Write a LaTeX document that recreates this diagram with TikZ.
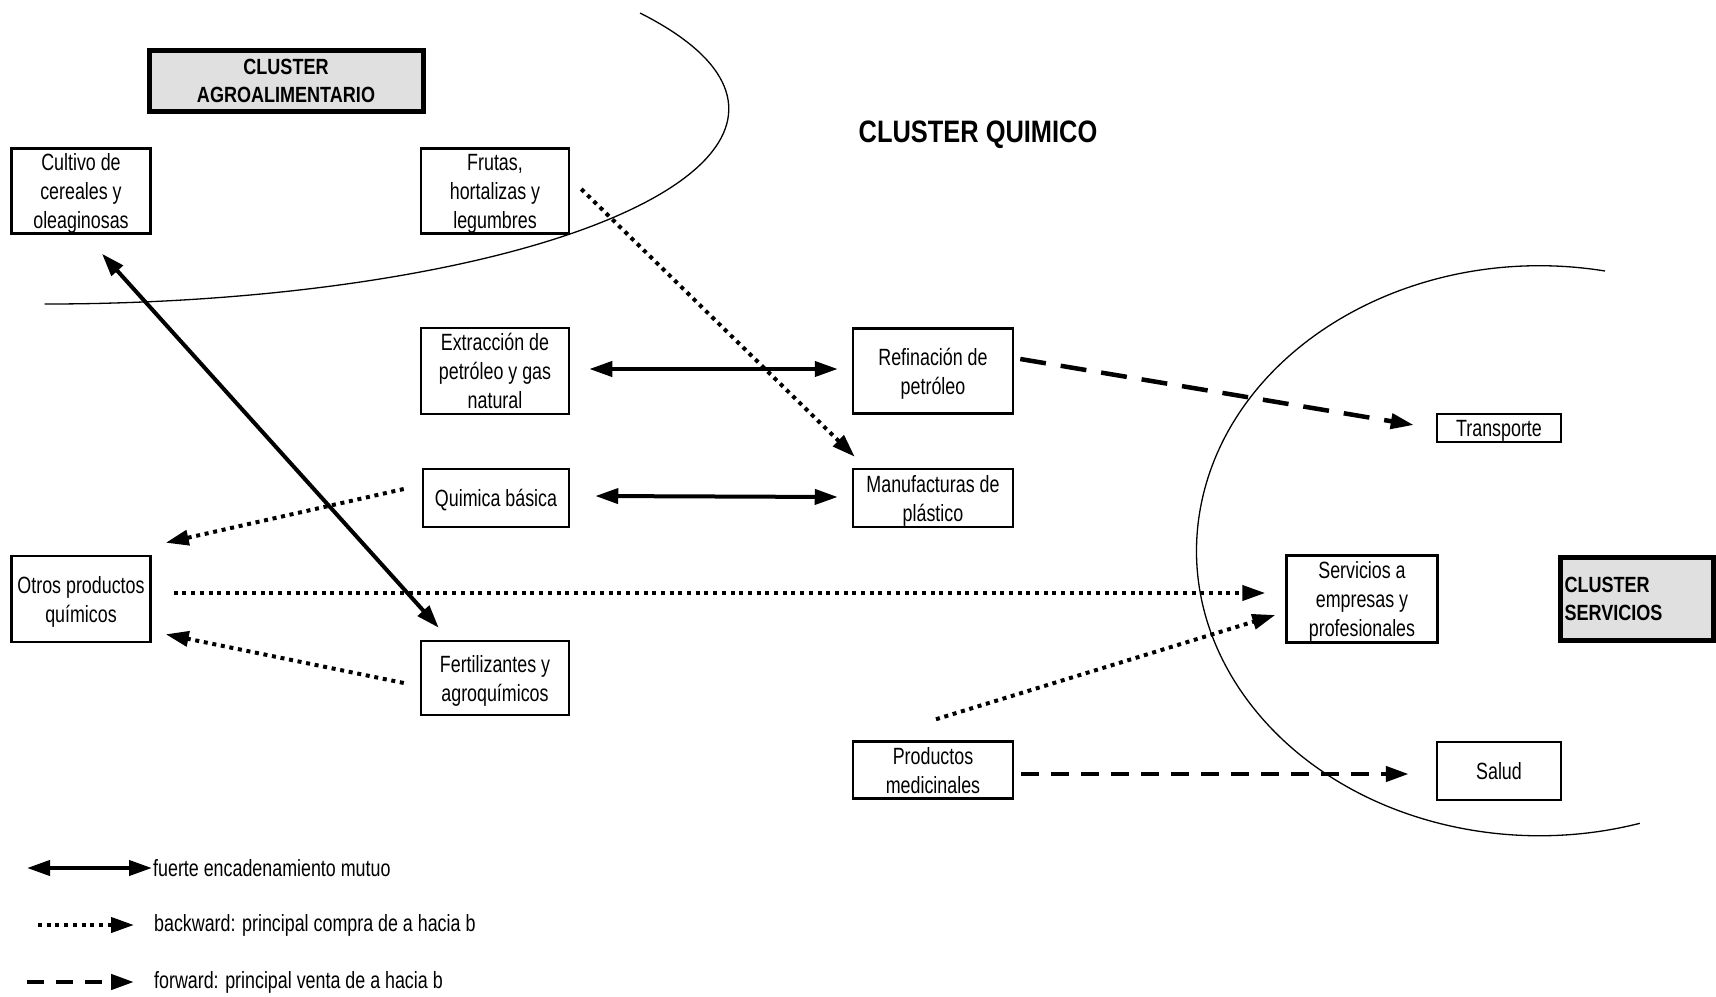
\documentclass[tikz,border=0pt]{standalone}
\usepackage{fontspec}
\setmainfont{Liberation Sans}[FakeStretch=0.76]
\newfontfamily\negrita{Liberation Sans}[FakeStretch=0.82]
\usetikzlibrary{arrows.meta}
\newcommand{\caja}[1]{\raisebox{-9pt}[0pt][0pt]{\begin{tabular}{@{}c@{}}#1\end{tabular}}}

\begin{document}
\begin{tikzpicture}[x = 1pt, y = 1pt, >={Triangle[length=23pt, width=15pt]},
		sector/.style = {draw, line width = 2.5pt, inner sep = 0pt, font = \fontsize{23.5}{29}\selectfont},
		cluster/.style = {draw, line width = 5pt, fill = black!12, inner sep = 0pt, font = \negrita\bfseries\fontsize{22}{28}\selectfont},
		mutuo/.style = {<->, line width = 4pt},
		compra/.style = {->, line width = 4pt, dash pattern = on 4pt off 4.7pt},
		venta/.style = {->, line width = 4.5pt, dash pattern = on 26pt off 15pt},
		borde/.style = {line width = 1.3pt},
		leyenda/.style = {anchor = west, inner sep = 0pt, font = \fontsize{23.5}{29}\selectfont}]
			\useasboundingbox (0, 0) rectangle (1716, -996);
			\draw[borde] (640, -13) arc[start angle = 29.5, end angle = -90, x radius = 684, y radius = 195];
			\draw[borde] (1605, -271) arc[start angle = 79, end angle = 287, x radius = 343, y radius = 285];
			\node[cluster, minimum width = 274pt, minimum height = 61pt, align = center] (agro) at (286, -80.5) {CLUSTER\\AGROALIMENTARIO};
			\node[cluster, minimum width = 153pt, minimum height = 83pt, text width = 145pt, inner xsep = 4pt, align = left] (servclus) at (1637, -599) {CLUSTER\\SERVICIOS};
			\node[font = \negrita\bfseries\fontsize{31}{37}\selectfont, anchor = base] (quimico) at (978, -142) {CLUSTER QUIMICO};
			\node[sector, minimum width = 139pt, minimum height = 85pt] (cultivo) at (81, -191) {\caja{Cultivo de\\cereales y\\oleaginosas}};
			\node[sector, minimum width = 148pt, minimum height = 85pt] (frutas) at (495, -191) {\caja{Frutas,\\hortalizas y\\legumbres}};
			\node[sector, minimum width = 148pt, minimum height = 86pt] (extraccion) at (495, -371) {\caja{Extracción de\\petróleo y gas\\natural}};
			\node[sector, minimum width = 160pt, minimum height = 85pt] (refinacion) at (933, -371) {\caja{Refinación de\\petróleo}};
			\node[sector, minimum width = 146pt, minimum height = 58pt] (quimica) at (496, -498) {\caja{Quimica básica}};
			\node[sector, minimum width = 160pt, minimum height = 58pt] (manufacturas) at (933, -498) {\caja{Manufacturas de\\plástico}};
			\node[sector, minimum width = 139pt, minimum height = 86pt] (otros) at (81, -599) {\caja{Otros productos\\químicos}};
			\node[sector, minimum width = 148pt, minimum height = 74pt] (fertilizantes) at (495, -678) {\caja{Fertilizantes y\\agroquímicos}};
			\node[sector, minimum width = 160pt, minimum height = 57pt] (medicinales) at (933, -770) {\caja{Productos\\medicinales}};
			\node[sector, minimum width = 124pt, minimum height = 28pt] (transporte) at (1499, -428) {\caja{Transporte}};
			\node[sector, minimum width = 151pt, minimum height = 87pt] (servicios) at (1362, -599) {\caja{Servicios a\\empresas y\\profesionales}};
			\node[sector, minimum width = 124pt, minimum height = 58pt] (salud) at (1499, -771) {\caja{Salud}};
			\draw[mutuo] ([shift = {(21, -19)}]cultivo.south) -- ([shift = {(19, 12)}]fertilizantes.north west);
			\draw[mutuo] ([shift = {(19, 2)}]extraccion.east) -- ([shift = {(-14, 2)}]refinacion.west);
			\draw[mutuo] ([shift = {(25, 2)}]quimica.east) -- ([shift = {(-14, 1)}]manufacturas.west);
			\draw[compra] ([shift = {(11, 2)}]frutas.east) -- ([shift = {(3, 11)}]manufacturas.north west);
			\draw[compra] ([shift = {(-18, 9)}]quimica.west) -- ([shift = {(14, 12)}]otros.north east);
			\draw[compra] ([shift = {(-16, -5)}]fertilizantes.west) -- ([shift = {(14, 9)}]otros.south east);
			\draw[compra] ([shift = {(22, 6)}]otros.east) -- ([shift = {(-20, 6)}]servicios.west);
			\draw[compra] ([shift = {(3, 21)}]medicinales.north) -- ([shift = {(-10, -16)}]servicios.west);
			\draw[venta] ([shift = {(6, 12)}]refinacion.east) -- ([shift = {(-22, 3)}]transporte.west);
			\draw[venta, dash pattern = on 18pt off 12pt] ([shift = {(7, -4)}]medicinales.east) -- ([shift = {(-27, -3)}]salud.west);
			\coordinate (fuerteA) at (27, -868);
			\coordinate (fuerteB) at (152, -868);
			\coordinate (compraA) at (38, -925);
			\coordinate (compraB) at (134, -925);
			\coordinate (ventaA) at (27, -982);
			\coordinate (ventaB) at (134, -982);
			\draw[mutuo] (fuerteA) -- (fuerteB);
			\draw[compra] (compraA) -- (compraB);
			\draw[venta, dash pattern = on 17pt off 12pt] (ventaA) -- (ventaB);
			\node[leyenda] (fuerte) at (153, -868) {fuerte encadenamiento mutuo};
			\node[leyenda] (backward) at (154, -925) {backward: principal compra de a hacia b};
			\node[leyenda] (forward) at (154, -982) {forward: principal venta de a hacia b};
		\end{tikzpicture}
\end{document}
